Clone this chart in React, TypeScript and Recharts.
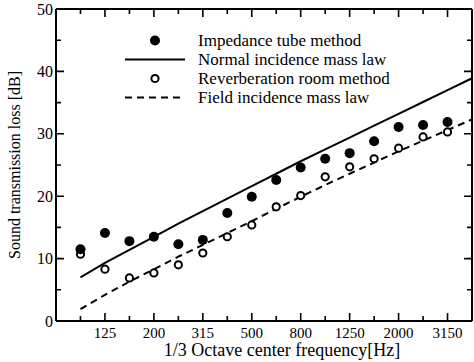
import React from "react";
import { ComposedChart, Line, XAxis, YAxis, ReferenceLine } from "recharts";

// 1/3 octave band centres, indexed 0..16 (100 Hz .. 4000 Hz)
const bandLabels = [
  "100", "125", "160", "200", "250", "315", "400", "500", "630",
  "800", "1000", "1250", "1600", "2000", "2500", "3150", "4000",
];
const impedanceTube = [
  11.5, 14.1, 12.8, 13.5, 12.3, 13.0, 17.3, 19.9, 22.6, 24.6, 26.0, 26.9,
  28.8, 31.1, 31.4, 31.9,
];
const reverbRoom = [
  10.7, 8.3, 6.9, 7.7, 9.0, 10.9, 13.5, 15.4, 18.3, 20.1, 23.1, 24.7, 26.0,
  27.7, 29.5, 30.3,
];
const normalMassLaw = [
  7.0, 9.3, 11.4, 13.5, 15.6, 17.6, 19.6, 21.6, 23.6, 25.6, 27.5, 29.4, 31.3,
  33.2, 35.1, 37.0, 38.9,
];
const fieldMassLaw = [
  1.9, 4.2, 6.3, 8.3, 10.3, 12.2, 14.1, 16.0, 18.0, 19.9, 21.8, 23.6, 25.4,
  27.2, 28.9, 30.6, 32.3,
];

const xTicks = [0, 1, 2, 3, 4, 5, 6, 7, 8, 9, 10, 11, 12, 13, 14, 15];
const yTicks = [0, 5, 10, 15, 20, 25, 30, 35, 40, 45, 50];

const data = bandLabels.map((label, i) => ({
  band: i,
  label,
  imp: impedanceTube[i] ?? null,
  rev: reverbRoom[i] ?? null,
  normal: normalMassLaw[i],
  field: fieldMassLaw[i],
}));

const FONT = "'Liberation Serif', 'Times New Roman', serif";
const W = 474;
const H = 362;
const M = { top: 9, right: 2, left: 0, bottom: 0 };
const Y_AXIS_W = 56;
const X_AXIS_H = 41;
const PLOT_W = W - M.left - M.right - Y_AXIS_W; // 416
const PLOT_H = H - M.top - M.bottom - X_AXIS_H; // 312
const MAJOR = 8;
const MINOR = 5;
const axisLine = { stroke: "#000", strokeWidth: 2 };

// bottom tick draws its inward mark, the matching top mark and the label
const XTick = (props: any) => {
  const { x, y, payload } = props;
  const major = payload.value % 2 === 1;
  const len = major ? MAJOR : MINOR;
  const top = y - PLOT_H;
  return (
    <g>
      <path d={`M${x},${y}V${y - len}M${x},${top}V${top + len}`} stroke="#000" strokeWidth={1.6} fill="none" />
      {major && (
        <text x={x} y={y + 17} textAnchor="middle" fontSize={15} fontFamily={FONT} fill="#000">
          {bandLabels[payload.value]}
        </text>
      )}
    </g>
  );
};

// left tick draws its inward mark, the matching right mark and the label
const YTick = (props: any) => {
  const { x, y, payload } = props;
  const major = payload.value % 10 === 0;
  const len = major ? MAJOR : MINOR;
  const right = x + PLOT_W;
  return (
    <g>
      <path d={`M${x},${y}H${x + len}M${right},${y}H${right - len}`} stroke="#000" strokeWidth={1.6} fill="none" />
      {major && (
        <text x={x - 3} y={y + 5.5} textAnchor="end" fontSize={16} fontFamily={FONT} fill="#000">
          {payload.value}
        </text>
      )}
    </g>
  );
};

const FilledDot = (props: any) => {
  const { cx, cy, payload } = props;
  if (payload.imp == null) return <g />;
  return <circle cx={cx} cy={cy} r={5} fill="#000" />;
};

const OpenDot = (props: any) => {
  const { cx, cy, payload } = props;
  if (payload.rev == null) return <g />;
  return <circle cx={cx} cy={cy} r={3.6} fill="#fff" stroke="#000" strokeWidth={2} />;
};

const legendRows = [
  { name: "Impedance tube method", kind: "filled" },
  { name: "Normal incidence mass law", kind: "solid" },
  { name: "Reverberation room method", kind: "open" },
  { name: "Field incidence mass law", kind: "dashed" },
];

const LegendBox = () => (
  <div
    style={{
      position: "absolute",
      left: 124,
      top: 31,
      fontFamily: FONT,
      fontSize: 17,
      color: "#000",
    }}
  >
    {legendRows.map((r) => (
      <div key={r.name} style={{ display: "flex", alignItems: "center", height: 19 }}>
        <svg width={62} height={19} style={{ display: "block" }}>
          {r.kind === "filled" && <circle cx={31} cy={9.5} r={5} fill="#000" />}
          {r.kind === "open" && (
            <circle cx={31} cy={9.5} r={3.6} fill="#fff" stroke="#000" strokeWidth={2} />
          )}
          {r.kind === "solid" && (
            <line x1={1} x2={61} y1={9.5} y2={9.5} stroke="#000" strokeWidth={2} />
          )}
          {r.kind === "dashed" && (
            <line x1={1} x2={61} y1={9.5} y2={9.5} stroke="#000" strokeWidth={2} strokeDasharray="7 5" />
          )}
        </svg>
        <span style={{ marginLeft: 12, whiteSpace: "nowrap", lineHeight: "19px" }}>{r.name}</span>
      </div>
    ))}
  </div>
);

export default function App() {
  return (
    <div style={{ width: W, height: H, background: "#fff", position: "relative", overflow: "hidden" }}>
      <style>{"html,body{margin:0;padding:0;overflow:hidden;}"}</style>
      <ComposedChart width={W} height={H} data={data} margin={M}>
        <XAxis
          dataKey="band"
          type="number"
          domain={[-1, 16]}
          allowDataOverflow
          ticks={xTicks}
          interval={0}
          tick={<XTick />}
          tickSize={0}
          tickMargin={0}
          tickLine={false}
          axisLine={axisLine}
          height={X_AXIS_H}
          label={{
            value: "1/3 Octave center frequency[Hz]",
            position: "insideBottom",
            offset: 6,
            dx: 18,
            fill: "#000",
            fontSize: 18,
            fontFamily: FONT,
          }}
        />
        <YAxis
          type="number"
          domain={[0, 50]}
          allowDataOverflow
          ticks={yTicks}
          interval={0}
          tick={<YTick />}
          tickSize={0}
          tickMargin={0}
          tickLine={false}
          axisLine={axisLine}
          width={Y_AXIS_W}
          label={{
            value: "Sound transmission loss [dB]",
            angle: -90,
            position: "insideLeft",
            offset: 14,
            fill: "#000",
            fontSize: 16,
            fontFamily: FONT,
            style: { textAnchor: "middle" },
          }}
        />
        {/* top and right edges of the frame */}
        <ReferenceLine y={50} stroke="#000" strokeWidth={2} ifOverflow="visible" />
        <ReferenceLine x={16} stroke="#000" strokeWidth={2} ifOverflow="visible" />

        <Line
          dataKey="normal"
          name="Normal incidence mass law"
          stroke="#000"
          strokeWidth={2}
          dot={false}
          activeDot={false}
          isAnimationActive={false}
        />
        <Line
          dataKey="field"
          name="Field incidence mass law"
          stroke="#000"
          strokeWidth={2}
          strokeDasharray="7 5"
          dot={false}
          activeDot={false}
          isAnimationActive={false}
        />
        <Line
          dataKey="rev"
          name="Reverberation room method"
          stroke="none"
          dot={<OpenDot />}
          activeDot={false}
          isAnimationActive={false}
        />
        <Line
          dataKey="imp"
          name="Impedance tube method"
          stroke="none"
          dot={<FilledDot />}
          activeDot={false}
          isAnimationActive={false}
        />
      </ComposedChart>
      <LegendBox />
    </div>
  );
}
